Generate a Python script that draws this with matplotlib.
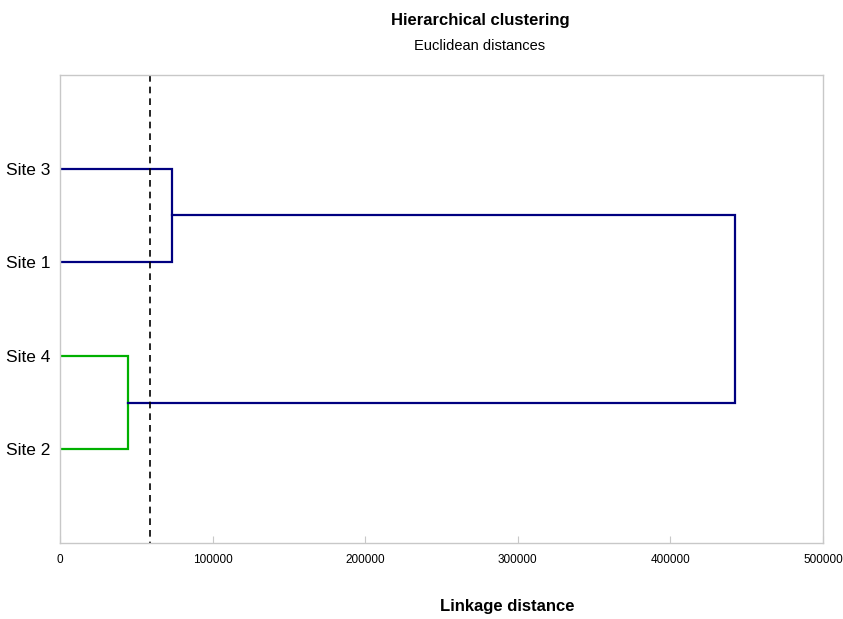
import matplotlib
matplotlib.use("Agg")
import matplotlib.pyplot as plt

plt.rcParams['font.family'] = ['Liberation Sans Narrow', 'Liberation Sans', 'DejaVu Sans']

# leaves, top to bottom
sites = ['Site 3', 'Site 1', 'Site 4', 'Site 2']
leaf_pos = [4, 3, 2, 1]

# merges: (upper child pos, lower child pos, height)
merge_a = [4, 3, 73400]        # Site 3 + Site 1
merge_b = [2, 1, 44600]        # Site 4 + Site 2
merge_root = [3.5, 1.5, 442300]
cut_level = 59000

blue = '#000080'
green = '#00b000'

fig = plt.figure(figsize=(8.43, 6.19), dpi=100)
ax = fig.add_axes([60/843, 1 - 543/619, (823-60)/843, (543-75)/619])

def link(y1, y2, x1, x2, h, c):
    # children at (x1,y1), (x2,y2) joined at height h
    ax.plot([x1, h, h, x2], [y1, y1, y2, y2], color=c, lw=1.6, solid_joinstyle='miter')

link(merge_a[0], merge_a[1], 0, 0, merge_a[2], blue)
link(merge_b[0], merge_b[1], 0, 0, merge_b[2], green)
link(merge_root[0], merge_root[1], merge_a[2], merge_b[2], merge_root[2], blue)

# truncation level, dashes start at the top edge
ax.plot([cut_level, cut_level], [5, 0], color='black', lw=1.2, ls='--', dashes=(4, 3))

ax.set_xlim(0, 500000)
ax.set_ylim(0, 5)
ax.set_xticks([0, 100000, 200000, 300000, 400000, 500000])
ax.set_xticklabels(['0', '100000', '200000', '300000', '400000', '500000'], fontsize=8.5)
ax.set_yticks(leaf_pos)
ax.set_yticklabels(sites, fontsize=12.5)
ax.tick_params(axis='y', length=0, pad=7)
ax.tick_params(axis='x', direction='in', length=5, color='#c8c8c8', pad=8)
for s in ax.spines.values():
    s.set_color('#c8c8c8')
    s.set_linewidth(1)

fig.text(480/843, 1 - 20/619, 'Hierarchical clustering', ha='center', va='center',
         fontsize=12, fontweight='bold')
fig.text(480/843, 1 - 46/619, 'Euclidean distances', ha='center', va='center', fontsize=10.5)
fig.text(507/843, 1 - 607/619, 'Linkage distance', ha='center', va='center',
         fontsize=12, fontweight='bold')

fig.savefig('out.png', dpi=100)
